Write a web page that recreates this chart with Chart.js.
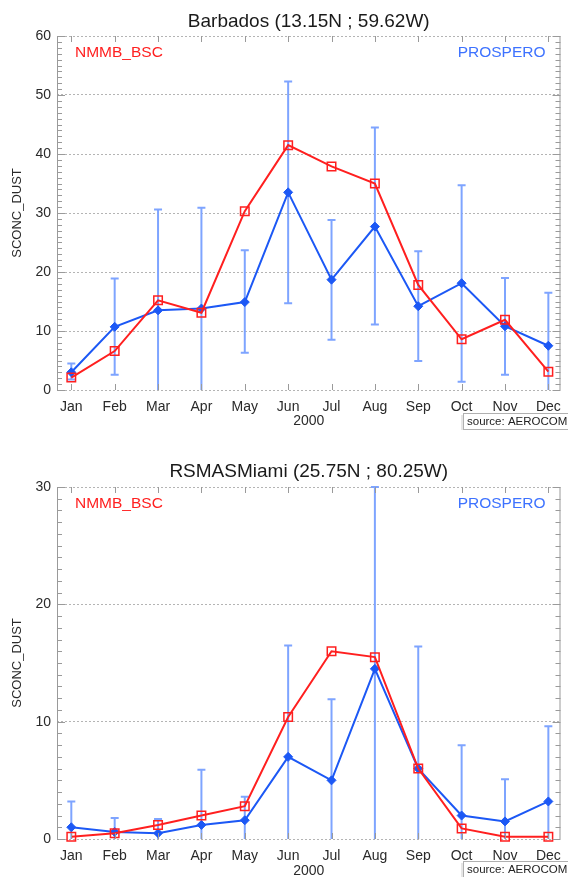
<!DOCTYPE html>
<html>
<head>
<meta charset="utf-8">
<title>SCONC_DUST Barbados / Miami</title>
<script src="https://cdn.jsdelivr.net/npm/chart.js@4/dist/chart.umd.min.js"></script>
<style>
  html, body { margin: 0; padding: 0; background: #fff; }
  #wrap { position: relative; width: 568px; height: 877px; overflow: hidden; }
  .panel { position: absolute; left: 0; width: 568px; }
  canvas { display: block; }
</style>
</head>
<body>
<div id="wrap">
  <div class="panel" style="top:0"><canvas id="barbados" width="568" height="430"></canvas></div>
  <div class="panel" style="top:430px"><canvas id="miami" width="568" height="447"></canvas></div>
</div>
<script>
const months = ["Jan", "Feb", "Mar", "Apr", "May", "Jun", "Jul", "Aug", "Sep", "Oct", "Nov", "Dec"];

// Barbados (13.15N ; 59.62W)
const barbadosModel = [2.1, 6.6, 15.2, 13.1, 30.3, 41.5, 37.9, 35.0, 17.8, 8.6, 11.9, 3.1];
const barbadosObs = [3.0, 10.7, 13.5, 13.8, 14.9, 33.5, 18.7, 27.7, 14.2, 18.1, 10.8, 7.5];
const barbadosObsLow = [1.8, 2.6, -2, -2, 6.3, 14.7, 8.5, 11.1, 4.9, 1.4, 2.6, -2];
const barbadosObsHigh = [4.5, 18.9, 30.6, 30.9, 23.7, 52.3, 28.8, 44.5, 23.5, 34.7, 19.0, 16.5];
const barbadosYTicks = [0, 10, 20, 30, 40, 50, 60];

// RSMASMiami (25.75N ; 80.25W)
const miamiModel = [0.2, 0.5, 1.2, 2.0, 2.8, 10.4, 16.0, 15.5, 6.0, 0.9, 0.2, 0.2];
const miamiObs = [1.0, 0.6, 0.5, 1.2, 1.6, 7.0, 5.0, 14.5, 6.0, 2.0, 1.5, 3.2];
const miamiObsLow = [-1, -1, -1, -1, -1, -1, -1, -1, -1, -1, -1, -1];
const miamiObsHigh = [3.2, 1.8, 1.7, 5.9, 3.6, 16.5, 11.9, 30, 16.4, 8.0, 5.1, 9.6];
const miamiYTicks = [0, 10, 20, 30];

const RED = "#ff1f1f";
const BLUE = "#1c58f5";
const ERR_BLUE = "#7ea4ff";
const FRAME = "#9a9a9a";
const FONT = "'Liberation Sans', Arial, sans-serif";

// IDL-like frame: error bars, inner ticks, in-plot labels, source box
const idlFrame = {
    id: "idlFrame",
    beforeDatasetsDraw(chart, args, opts) {
        const { ctx, chartArea: a, scales: { x, y } } = chart;
        ctx.save();
        ctx.beginPath();
        ctx.rect(a.left, a.top - 1, a.right - a.left, a.bottom - a.top + 1);
        ctx.clip();
        ctx.strokeStyle = ERR_BLUE;
        ctx.lineWidth = 2;
        opts.low.forEach((lo, i) => {
            const px = x.getPixelForValue(i + 1);
            const pLo = y.getPixelForValue(lo);
            const pHi = y.getPixelForValue(opts.high[i]);
            ctx.beginPath();
            ctx.moveTo(px, pLo);
            ctx.lineTo(px, pHi);
            ctx.moveTo(px - 4, pHi);
            ctx.lineTo(px + 4, pHi);
            ctx.moveTo(px - 4, pLo);
            ctx.lineTo(px + 4, pLo);
            ctx.stroke();
        });
        ctx.restore();
    },
    afterDraw(chart, args, opts) {
        const { ctx, chartArea: a, scales: { x, y } } = chart;
        ctx.save();
        ctx.strokeStyle = FRAME;
        ctx.lineWidth = 1;

        // side frame lines
        ctx.beginPath();
        ctx.moveTo(a.left + 0.5, a.top);
        ctx.lineTo(a.left + 0.5, a.bottom);
        ctx.moveTo(a.right - 0.5, a.top);
        ctx.lineTo(a.right - 0.5, a.bottom);
        ctx.stroke();

        // minor + major y ticks on both sides
        ctx.beginPath();
        for (let v = Math.ceil(y.min); v <= y.max; v++) {
            const py = Math.round(y.getPixelForValue(v)) + 0.5;
            const len = opts.yTicks.includes(v) ? 8 : 5;
            ctx.moveTo(a.left, py);
            ctx.lineTo(a.left + len, py);
            ctx.moveTo(a.right, py);
            ctx.lineTo(a.right - len, py);
        }
        // month ticks top and bottom
        months.forEach((m, i) => {
            const px = Math.round(x.getPixelForValue(i + 1)) + 0.5;
            ctx.moveTo(px, a.bottom);
            ctx.lineTo(px, a.bottom - 6);
            ctx.moveTo(px, a.top);
            ctx.lineTo(px, a.top + 6);
        });
        ctx.stroke();

        // series names inside the plot
        ctx.font = "15.5px " + FONT;
        ctx.textBaseline = "middle";
        ctx.fillStyle = RED;
        ctx.textAlign = "left";
        ctx.fillText(opts.modelName, a.left + 18, a.top + 17);
        ctx.fillStyle = "#3d72ff";
        ctx.textAlign = "right";
        ctx.fillText(opts.obsName, a.right - 15, a.top + 17);

        // source box
        const bx = 463, by = opts.sourceTop, bw = 105, bh = 17;
        ctx.fillStyle = "#e6e6e6";
        ctx.fillRect(bx - 2, by + 2, bw + 2, bh);
        ctx.fillStyle = "#fff";
        ctx.fillRect(bx, by, bw, bh);
        ctx.strokeStyle = "#b0b0b0";
        ctx.strokeRect(bx + 0.5, by + 0.5, bw, bh - 1);
        ctx.fillStyle = "#222";
        ctx.font = "11.5px " + FONT;
        ctx.textAlign = "left";
        ctx.fillText("source: AEROCOM", bx + 4, by + bh / 2 + 0.5);
        ctx.restore();
    }
};

function toPoints(values) {
    return values.map((v, i) => ({ x: i + 1, y: v }));
}

function makeSiteChart(canvasId, site) {
    const ctx = document.getElementById(canvasId).getContext("2d");
    return new Chart(ctx, {
        type: "line",
        data: {
            datasets: [
                {
                    label: "NMMB_BSC",
                    data: toPoints(site.model),
                    borderColor: RED,
                    borderWidth: 2,
                    pointStyle: "rect",
                    pointRadius: 6,
                    pointBorderWidth: 1.5,
                    pointBorderColor: RED,
                    pointBackgroundColor: "rgba(255,255,255,0)",
                    tension: 0,
                    clip: false,
                },
                {
                    label: "PROSPERO",
                    data: toPoints(site.obs),
                    borderColor: BLUE,
                    borderWidth: 2,
                    pointStyle: "rectRot",
                    pointRadius: 4.5,
                    pointBorderWidth: 1,
                    pointBorderColor: BLUE,
                    pointBackgroundColor: BLUE,
                    tension: 0,
                    clip: false,
                },
            ],
        },
        options: {
            responsive: false,
            animation: false,
            layout: { padding: { left: 0, right: 2, top: 0, bottom: 0 } },
            plugins: {
                legend: { display: false },
                tooltip: { enabled: false },
                title: {
                    display: true,
                    text: site.title,
                    fullSize: false,
                    color: "#1a1a1a",
                    font: { family: FONT, size: 19, weight: "normal" },
                    padding: site.titlePadding,
                },
                idlFrame: {
                    low: site.low,
                    high: site.high,
                    yTicks: site.yTicks,
                    modelName: "NMMB_BSC",
                    obsName: "PROSPERO",
                    sourceTop: site.sourceTop,
                },
            },
            scales: {
                x: {
                    type: "linear",
                    min: 0.67,
                    max: 12.28,
                    afterBuildTicks: (s) => { s.ticks = months.map((m, i) => ({ value: i + 1 })); },
                    afterFit: (s) => {
                        s.height = site.xAxisHeight;
                        s.paddingLeft = 0;
                        s.paddingRight = 0;
                    },
                    grid: { display: false, drawTicks: false },
                    border: { display: false },
                    ticks: {
                        autoSkip: false,
                        maxRotation: 0,
                        minRotation: 0,
                        padding: 9,
                        color: "#2a2a2a",
                        font: { family: FONT, size: 14 },
                        callback: (v) => months[v - 1],
                    },
                    title: {
                        display: true,
                        text: "2000",
                        color: "#2a2a2a",
                        font: { family: FONT, size: 14 },
                        padding: { top: 0, bottom: site.xTitlePad },
                    },
                },
                y: {
                    min: 0,
                    max: site.yMax,
                    afterBuildTicks: (s) => { s.ticks = site.yTicks.map((v) => ({ value: v })); },
                    afterFit: (s) => { s.width = 57; },
                    grid: { color: "#b4b4b4", lineWidth: 1, drawTicks: false },
                    border: { display: false, dash: [2, 2] },
                    ticks: {
                        padding: 6,
                        color: "#2a2a2a",
                        font: { family: FONT, size: 14 },
                    },
                    title: {
                        display: true,
                        text: "SCONC_DUST",
                        color: "#2a2a2a",
                        font: { family: FONT, size: 13 },
                        padding: { top: 10, bottom: 0 },
                    },
                },
            },
        },
        plugins: [idlFrame],
    });
}

makeSiteChart("barbados", {
    title: "Barbados (13.15N ; 59.62W)",
    model: barbadosModel,
    obs: barbadosObs,
    low: barbadosObsLow,
    high: barbadosObsHigh,
    yTicks: barbadosYTicks,
    yMax: 60,
    titlePadding: { top: 10.2, bottom: 3.0 },
    xAxisHeight: 40,
    xTitlePad: 0,
    sourceTop: 413,
});

makeSiteChart("miami", {
    title: "RSMASMiami (25.75N ; 80.25W)",
    model: miamiModel,
    obs: miamiObs,
    low: miamiObsLow,
    high: miamiObsHigh,
    yTicks: miamiYTicks,
    yMax: 30,
    titlePadding: { top: 30.4, bottom: 3.8 },
    xAxisHeight: 38,
    xTitlePad: -3,
    sourceTop: 431,
});
</script>
</body>
</html>
